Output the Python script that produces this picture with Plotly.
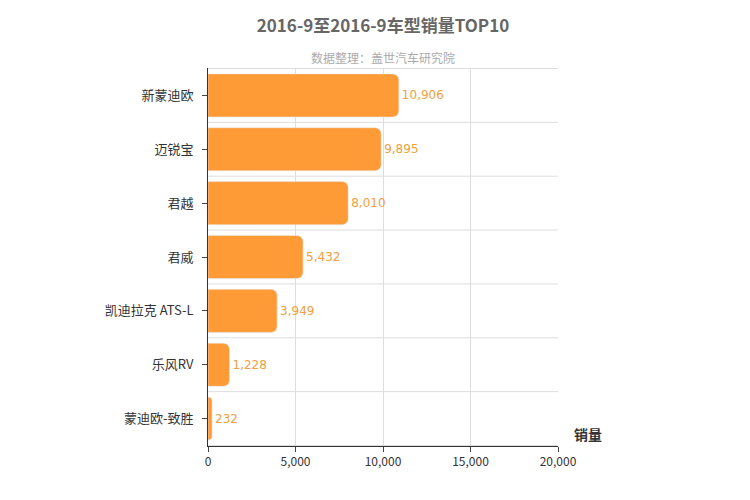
import plotly.graph_objects as go

models = ["新蒙迪欧", "迈锐宝", "君越", "君威", "凯迪拉克 ATS-L", "乐风RV", "蒙迪欧-致胜"]
sales = [10906, 9895, 8010, 5432, 3949, 1228, 232]
x_ticks = [0, 5000, 10000, 15000, 20000]

fig = go.Figure(go.Bar(
    x=sales, y=models, orientation="h", width=0.8,
    marker=dict(color="#ff9b37", cornerradius=6),
    text=[f"{v:,}" for v in sales], textposition="outside",
    textfont=dict(color="#f0a040", size=12, family="Arial Black, DejaVu Sans"),
    cliponaxis=False,
))

shapes = [dict(type="line", xref="paper", x0=0, x1=1, yref="y", y0=i - 0.5, y1=i - 0.5,
               line=dict(color="#dddddd", width=1)) for i in range(len(models) + 1)]

fig.update_layout(
    width=750, height=500, plot_bgcolor="white", paper_bgcolor="white",
    margin=dict(l=200, r=200, t=60, b=62),
    font=dict(family="Noto Sans CJK SC, DejaVu Sans", color="#333"),
    title=dict(text="<b>2016-9至2016-9车型销量TOP10</b>", x=0.5, y=0.975, xanchor="center",
               font=dict(size=17, color="#666")),
    shapes=shapes, showlegend=False,
    annotations=[
        dict(text="数据整理：盖世汽车研究院", x=0.5, y=1.055, xref="paper", yref="paper",
             showarrow=False, font=dict(size=12, color="#aaa")),
        dict(text="<b>销量</b>", x=1.04, y=0, xref="paper", yref="paper", xanchor="left",
             yanchor="bottom", showarrow=False, font=dict(size=14, color="#333")),
    ],
)
fig.update_xaxes(range=[0, 20000], tickvals=x_ticks, tickformat=",", showgrid=True,
                 gridcolor="#dddddd", zeroline=False, showline=True, linecolor="#333",
                 ticks="outside", ticklen=5, tickfont=dict(size=12, color="#333"))
fig.update_yaxes(autorange="reversed", showgrid=False, showline=True, linecolor="#333",
                 tickfont=dict(size=13, color="#333"), ticks="outside", ticklen=5,
                 ticksuffix="  ")
fig.write_html("out.html")
